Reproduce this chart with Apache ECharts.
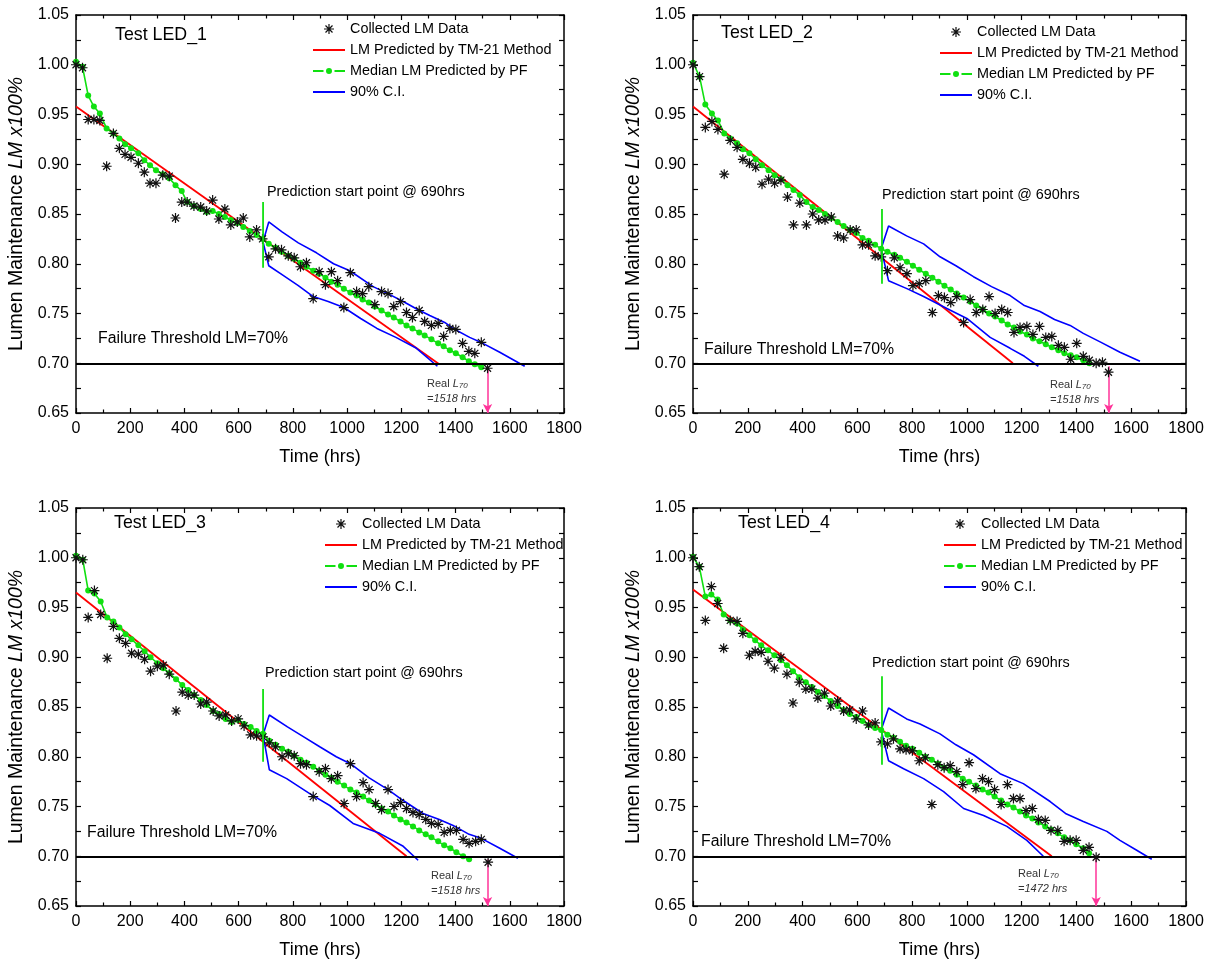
<!DOCTYPE html>
<html><head><meta charset="utf-8">
<script src="https://cdn.jsdelivr.net/npm/echarts@6/dist/echarts.min.js"></script>
<style>html,body{margin:0;padding:0;background:#fff}#chart{width:1225px;height:969px}</style>
</head><body><div id="chart"></div>
<script>
// ---------------- DATA ----------------
const xMin = 0, xMax = 1800, xStep = 200;
const yMin = 0.65, yMax = 1.05, yStep = 0.05;
const threshold = 0.70;
const predictionStart = 690;
const legendNames = ['Collected LM Data', 'LM Predicted by TM-21 Method', 'Median LM Predicted by PF', '90% C.I.'];
const panelTitles = ['Test LED_1', 'Test LED_2', 'Test LED_3', 'Test LED_4'];
const realL70 = [1518, 1518, 1518, 1472];

// LED 1
const led1Time = [0,24,45,66,88,113,138,160,181,203,230,252,273,295,320,344,367,390,410,435,460,482,504,527,549,571,595,617,641,666,688,711,736,758,783,805,828,850,875,897,920,942,965,988,1012,1035,1057,1080,1102,1127,1151,1172,1197,1219,1241,1266,1286,1311,1336,1356,1379,1401,1426,1449,1471,1495,1518];
const led1LM = [1.000,0.997,0.945,0.945,0.944,0.898,0.931,0.916,0.910,0.907,0.901,0.892,0.881,0.881,0.889,0.888,0.846,0.862,0.862,0.858,0.857,0.853,0.864,0.845,0.855,0.839,0.842,0.846,0.827,0.834,0.825,0.807,0.815,0.814,0.808,0.806,0.797,0.801,0.765,0.792,0.779,0.792,0.783,0.756,0.791,0.772,0.770,0.777,0.759,0.772,0.770,0.757,0.762,0.751,0.746,0.753,0.742,0.738,0.740,0.727,0.735,0.734,0.720,0.712,0.710,0.721,0.695];
const led1PFTime = [0,24,45,66,88,113,138,160,181,203,230,252,273,295,320,344,367,390,410,435,460,482,504,527,549,571,595,617,641,666,688,711,736,758,783,805,828,850,875,897,920,942,965,988,1012,1035,1057,1080,1102,1127,1151,1172,1197,1219,1241,1266,1286,1311,1336,1356,1379,1401,1426,1449,1471,1495];
const led1PF = [1.003,0.998,0.969,0.958,0.951,0.936,0.931,0.926,0.920,0.916,0.911,0.904,0.899,0.894,0.890,0.886,0.879,0.873,0.862,0.858,0.855,0.852,0.853,0.850,0.847,0.844,0.841,0.837,0.833,0.829,0.825,0.820,0.816,0.812,0.808,0.805,0.801,0.797,0.793,0.790,0.786,0.782,0.779,0.775,0.771,0.768,0.764,0.761,0.757,0.753,0.749,0.746,0.742,0.738,0.735,0.731,0.728,0.724,0.720,0.717,0.713,0.710,0.706,0.702,0.699,0.696];
const led1TM21Time = [0, 1340];
const led1TM21 = [0.958, 0.699];
const led1UpperTime = [690,711,760,820,887,950,1010,1096,1150,1207,1260,1305,1360,1391,1452,1501,1563,1655];
const led1Upper = [0.822,0.842,0.832,0.821,0.811,0.800,0.793,0.777,0.770,0.762,0.754,0.748,0.741,0.735,0.726,0.720,0.711,0.697];
const led1LowerTime = [690,711,760,820,875,930,988,1050,1110,1180,1256,1333];
const led1Lower = [0.822,0.798,0.789,0.778,0.767,0.762,0.756,0.745,0.735,0.726,0.715,0.697];
const led1StartMark = [0.796, 0.862];

// LED 2
const led2Time = [0,24,45,69,91,114,136,161,182,206,229,252,276,298,321,345,367,390,414,437,459,482,505,528,550,574,596,619,641,665,687,710,735,756,781,803,826,850,874,896,918,941,963,988,1012,1034,1058,1081,1103,1127,1149,1172,1194,1219,1241,1265,1288,1310,1334,1356,1379,1401,1425,1447,1472,1495,1517];
const led2LM = [1.000,0.988,0.937,0.943,0.935,0.890,0.924,0.917,0.905,0.901,0.897,0.880,0.885,0.881,0.884,0.867,0.839,0.861,0.839,0.850,0.844,0.844,0.847,0.828,0.826,0.834,0.834,0.819,0.819,0.808,0.807,0.793,0.806,0.796,0.790,0.778,0.780,0.783,0.751,0.768,0.766,0.761,0.767,0.741,0.764,0.751,0.754,0.767,0.750,0.754,0.751,0.731,0.736,0.737,0.729,0.737,0.726,0.727,0.718,0.716,0.704,0.720,0.707,0.703,0.700,0.701,0.691];
const led2PFTime = [0,24,45,69,91,114,136,161,182,206,229,252,276,298,321,345,367,390,414,437,459,482,505,528,550,574,596,619,641,665,687,710,735,756,781,803,826,850,874,896,918,941,963,988,1012,1034,1058,1081,1103,1127,1149,1172,1194,1219,1241,1265,1288,1310,1334,1356,1379,1401,1425,1447];
const led2PF = [1.002,0.988,0.960,0.951,0.944,0.931,0.926,0.921,0.915,0.911,0.905,0.899,0.894,0.889,0.885,0.879,0.874,0.869,0.862,0.857,0.854,0.850,0.846,0.842,0.838,0.834,0.831,0.826,0.823,0.819,0.815,0.812,0.809,0.806,0.802,0.798,0.794,0.790,0.786,0.782,0.778,0.774,0.770,0.766,0.762,0.758,0.754,0.750,0.747,0.743,0.739,0.736,0.732,0.729,0.725,0.722,0.719,0.716,0.713,0.710,0.708,0.706,0.703,0.700];
const led2TM21Time = [0, 1168];
const led2TM21 = [0.958, 0.700];
const led2UpperTime = [687,714,780,842,902,960,1024,1090,1158,1210,1267,1320,1377,1425,1490,1559,1632];
const led2Upper = [0.815,0.838,0.828,0.820,0.807,0.798,0.787,0.777,0.768,0.758,0.752,0.744,0.738,0.730,0.721,0.711,0.702];
const led2LowerTime = [687,714,781,842,927,1000,1085,1158,1210,1261];
const led2Lower = [0.815,0.783,0.775,0.767,0.755,0.745,0.726,0.715,0.707,0.697];
const led2StartMark = [0.780, 0.855];

// LED 3
const led3Time = [0,25,45,68,91,115,138,160,183,205,230,253,275,300,322,344,369,392,414,436,460,482,506,528,552,574,598,620,644,666,690,713,736,760,783,805,828,850,875,897,920,942,965,989,1012,1035,1059,1081,1105,1127,1151,1173,1197,1219,1243,1266,1290,1311,1336,1358,1381,1403,1428,1450,1474,1495,1520];
const led3LM = [1.000,0.998,0.940,0.967,0.943,0.899,0.931,0.919,0.914,0.904,0.903,0.898,0.886,0.891,0.892,0.883,0.846,0.865,0.862,0.862,0.853,0.855,0.846,0.841,0.842,0.836,0.838,0.831,0.822,0.821,0.820,0.814,0.810,0.800,0.803,0.801,0.793,0.792,0.760,0.785,0.788,0.778,0.781,0.753,0.793,0.760,0.774,0.767,0.753,0.747,0.767,0.750,0.754,0.748,0.744,0.742,0.737,0.733,0.732,0.724,0.726,0.726,0.717,0.713,0.715,0.717,0.694];
const led3PFTime = [0,25,45,68,91,115,138,160,183,205,230,253,275,300,322,344,369,392,414,436,460,482,506,528,552,574,598,620,644,666,690,713,736,760,783,805,828,850,875,897,920,942,965,989,1012,1035,1059,1081,1105,1127,1151,1173,1197,1219,1243,1266,1290,1311,1336,1358,1381,1403,1428,1450];
const led3PF = [1.002,0.998,0.967,0.964,0.956,0.940,0.936,0.930,0.923,0.918,0.912,0.906,0.900,0.894,0.889,0.884,0.878,0.872,0.867,0.862,0.857,0.852,0.846,0.843,0.838,0.835,0.837,0.833,0.830,0.826,0.823,0.816,0.812,0.808,0.805,0.801,0.797,0.794,0.790,0.786,0.782,0.779,0.775,0.771,0.767,0.764,0.760,0.756,0.752,0.748,0.745,0.741,0.737,0.734,0.730,0.726,0.722,0.719,0.715,0.711,0.708,0.704,0.700,0.697];
const led3TM21Time = [0, 1219];
const led3TM21 = [0.965, 0.700];
const led3UpperTime = [690,713,780,840,899,960,1012,1080,1151,1207,1280,1340,1391,1450,1495,1563,1630];
const led3Upper = [0.822,0.842,0.830,0.820,0.810,0.800,0.793,0.779,0.767,0.756,0.743,0.737,0.731,0.722,0.718,0.708,0.698];
const led3LowerTime = [690,713,777,862,936,1022,1120,1207,1262];
const led3Lower = [0.822,0.787,0.778,0.763,0.751,0.733,0.723,0.710,0.696];
const led3StartMark = [0.795, 0.868];

// LED 4
const led4Time = [0,23,45,67,90,112,136,161,182,206,227,249,274,297,321,343,365,388,412,434,456,480,503,528,550,572,596,619,641,665,687,710,732,756,778,801,826,848,872,894,917,939,963,985,1008,1033,1057,1079,1101,1125,1148,1170,1194,1216,1239,1261,1286,1307,1332,1355,1377,1399,1425,1446,1472];
const led4LM = [1.000,0.991,0.937,0.971,0.954,0.909,0.937,0.936,0.924,0.902,0.906,0.905,0.896,0.889,0.900,0.883,0.854,0.875,0.868,0.868,0.859,0.864,0.851,0.856,0.846,0.847,0.838,0.846,0.832,0.834,0.815,0.813,0.818,0.808,0.807,0.806,0.796,0.799,0.752,0.792,0.789,0.791,0.785,0.772,0.794,0.768,0.778,0.775,0.767,0.752,0.772,0.758,0.758,0.746,0.748,0.737,0.736,0.726,0.726,0.715,0.716,0.716,0.706,0.709,0.699];
const led4PFTime = [0,23,45,67,90,112,136,161,182,206,227,249,274,297,321,343,365,388,412,434,456,480,503,528,550,572,596,619,641,665,687,710,732,756,778,801,826,848,872,894,917,939,963,985,1008,1033,1057,1079,1101,1125,1148,1170,1194,1216,1239,1261,1286,1307,1332,1355,1377,1399,1425,1446];
const led4PF = [1.001,0.991,0.961,0.963,0.958,0.943,0.937,0.934,0.928,0.922,0.917,0.912,0.907,0.902,0.897,0.892,0.886,0.880,0.875,0.870,0.865,0.861,0.856,0.851,0.847,0.843,0.840,0.836,0.832,0.829,0.827,0.822,0.819,0.815,0.811,0.808,0.804,0.800,0.797,0.793,0.789,0.786,0.782,0.778,0.775,0.771,0.767,0.764,0.760,0.756,0.752,0.749,0.745,0.741,0.738,0.734,0.730,0.727,0.723,0.719,0.716,0.712,0.708,0.703];
const led4TM21Time = [0, 1310];
const led4TM21 = [0.968, 0.700];
const led4UpperTime = [687,714,780,829,902,960,1024,1121,1206,1304,1360,1425,1511,1559,1620,1675];
const led4Upper = [0.827,0.849,0.838,0.833,0.823,0.812,0.802,0.783,0.773,0.755,0.743,0.735,0.725,0.716,0.706,0.697];
const led4LowerTime = [687,714,769,842,915,988,1061,1146,1219,1279];
const led4Lower = [0.827,0.796,0.788,0.778,0.765,0.748,0.741,0.730,0.716,0.700];
const led4StartMark = [0.792, 0.881];

// ---------------- CHART ----------------
const FONT = 'Arial, "Liberation Sans", Helvetica, sans-serif';
const zip = (a, b) => a.map((v, k) => [v, b[k]]);
const panels = [
  {t: led1Time, v: led1LM, pt: led1PFTime, pv: led1PF, tt: led1TM21Time, tv: led1TM21, ut: led1UpperTime, uv: led1Upper, lt: led1LowerTime, lv: led1Lower, sm: led1StartMark},
  {t: led2Time, v: led2LM, pt: led2PFTime, pv: led2PF, tt: led2TM21Time, tv: led2TM21, ut: led2UpperTime, uv: led2Upper, lt: led2LowerTime, lv: led2Lower, sm: led2StartMark},
  {t: led3Time, v: led3LM, pt: led3PFTime, pv: led3PF, tt: led3TM21Time, tv: led3TM21, ut: led3UpperTime, uv: led3Upper, lt: led3LowerTime, lv: led3Lower, sm: led3StartMark},
  {t: led4Time, v: led4LM, pt: led4PFTime, pv: led4PF, tt: led4TM21Time, tv: led4TM21, ut: led4UpperTime, uv: led4Upper, lt: led4LowerTime, lv: led4Lower, sm: led4StartMark}
];

const grids = [
  {left: 76, top: 15, width: 488, height: 398},
  {left: 693, top: 15, width: 493, height: 398},
  {left: 76, top: 508, width: 488, height: 398},
  {left: 693, top: 508, width: 493, height: 398}
];

const STAR = 'path://M-1.2,-10L1.2,-10L1.2,10L-1.2,10Z M-10,-1.2L10,-1.2L10,1.2L-10,1.2Z M-6.15,-7.85L7.85,6.15L6.15,7.85L-7.85,-6.15Z M6.15,-7.85L7.85,-6.15L-6.15,7.85L-7.85,6.15Z';
// legend icons drawn in a 32x14 box (tiny corner triangles fix the box size)
const BOX = 'M0,0L0.01,0L0,0.01Z M32,14L31.99,14L32,13.99Z ';
const ICON_LINE = 'path://' + BOX + 'M0,6L32,6L32,8L0,8Z';
const ICON_DOTLINE = 'path://' + BOX + 'M0,6.1L10.5,6.1L10.5,7.9L0,7.9Z M21.5,6.1L32,6.1L32,7.9L21.5,7.9Z M13,7A3,3 0 1 0 19,7A3,3 0 1 0 13,7Z';
const ICON_STAR = 'path://' + BOX + 'M15.4,2L16.6,2L16.6,12L15.4,12Z M11,6.4L21,6.4L21,7.6L11,7.6Z M12.925,3.075L19.925,10.075L19.075,10.925L12.075,3.925Z M19.075,3.075L19.925,3.925L12.925,10.925L12.075,10.075Z';
const GREEN = '#10e010', RED = '#ff0000', BLUE = '#0000ff';

const xAxes = [], yAxes = [], series = [], legends = [], graphics = [];
const axisLineStyle = {color: '#000', width: 1.5};

grids.forEach((g, i) => {
  xAxes.push({
    gridIndex: i, type: 'value', min: xMin, max: xMax, interval: xStep, position: 'bottom',
    axisLine: {onZero: false, lineStyle: axisLineStyle},
    axisTick: {inside: true, length: 5, lineStyle: {color: '#000', width: 1.2}},
    minorTick: {show: true, splitNumber: 2, length: 3.5, lineStyle: {color: '#000', width: 1.2}},
    axisLabel: {color: '#000', fontSize: 16, fontFamily: FONT, margin: 8, formatter: v => String(v)},
    splitLine: {show: false}, minorSplitLine: {show: false},
    name: 'Time (hrs)', nameLocation: 'middle', nameGap: 35,
    nameTextStyle: {color: '#000', fontSize: 18, fontFamily: FONT}
  });
  xAxes.push({
    gridIndex: i, type: 'value', min: xMin, max: xMax, interval: xStep, position: 'top',
    axisLine: {onZero: false, lineStyle: axisLineStyle},
    axisTick: {inside: true, length: 5, lineStyle: {color: '#000', width: 1.2}},
    minorTick: {show: true, splitNumber: 2, length: 3.5, lineStyle: {color: '#000', width: 1.2}},
    axisLabel: {show: false}, splitLine: {show: false}
  });
  yAxes.push({
    gridIndex: i, type: 'value', min: yMin, max: yMax, interval: yStep, position: 'left',
    axisLine: {onZero: false, lineStyle: axisLineStyle},
    axisTick: {inside: true, length: 5, lineStyle: {color: '#000', width: 1.2}},
    minorTick: {show: true, splitNumber: 2, length: 5, lineStyle: {color: '#000', width: 1.2}},
    axisLabel: {color: '#000', fontSize: 16, fontFamily: FONT, margin: 7, formatter: v => v.toFixed(2)},
    splitLine: {show: false},
    name: 'Lumen Maintenance {i|LM x100%}', nameLocation: 'middle', nameGap: 49, nameRotate: 90,
    nameTextStyle: {color: '#000', fontSize: 19.5, fontFamily: FONT,
      rich: {i: {fontStyle: 'italic', fontSize: 19.5, color: '#000', fontFamily: FONT}}}
  });
  yAxes.push({
    gridIndex: i, type: 'value', min: yMin, max: yMax, interval: yStep, position: 'right',
    axisLine: {onZero: false, lineStyle: axisLineStyle},
    axisTick: {inside: true, length: 5, lineStyle: {color: '#000', width: 1.2}},
    minorTick: {show: true, splitNumber: 2, length: 5, lineStyle: {color: '#000', width: 1.2}},
    axisLabel: {show: false}, splitLine: {show: false}
  });

  const p = panels[i];
  const base = {xAxisIndex: 2 * i, yAxisIndex: 2 * i, animation: false, emphasis: {disabled: true}};
  series.push({
    ...base, type: 'line', name: legendNames[1], data: zip(p.tt, p.tv), symbol: 'none',
    lineStyle: {color: RED, width: 1.8}, itemStyle: {color: RED}, z: 3,
    markLine: {silent: true, symbol: ['none', 'none'], label: {show: false}, animation: false,
      emphasis: {disabled: true},
      lineStyle: {color: '#000', width: 2, type: 'solid'}, data: [{yAxis: threshold}]}
  });
  series.push({
    ...base, type: 'line', name: legendNames[3], data: zip(p.ut, p.uv), symbol: 'none',
    lineStyle: {color: BLUE, width: 1.6}, itemStyle: {color: BLUE}, z: 3
  });
  series.push({
    ...base, type: 'line', name: legendNames[3], data: zip(p.lt, p.lv), symbol: 'none',
    lineStyle: {color: BLUE, width: 1.6}, itemStyle: {color: BLUE}, z: 3
  });
  series.push({
    ...base, type: 'line', name: legendNames[2], data: zip(p.pt, p.pv), symbol: 'circle', symbolSize: 6,
    showAllSymbol: true, lineStyle: {color: GREEN, width: 1.6}, itemStyle: {color: GREEN, borderWidth: 0}, z: 4
  });
  series.push({
    ...base, type: 'scatter', name: legendNames[0], data: zip(p.t, p.v), symbol: STAR, symbolSize: 10,
    itemStyle: {color: '#111', opacity: 1}, z: 5
  });
  series.push({
    ...base, type: 'line', name: 'start', data: [[predictionStart, p.sm[0]], [predictionStart, p.sm[1]]],
    symbol: 'none', lineStyle: {color: GREEN, width: 1.8}, z: 6,
    markLine: {silent: true, symbol: ['none', 'arrow'], symbolSize: [7, 9], label: {show: false}, animation: false,
      emphasis: {disabled: true},
      lineStyle: {color: '#ff3399', width: 1.5, type: 'solid'},
      data: [[{coord: [realL70[i], 0.697]}, {coord: [realL70[i], yMin]}]]}
  });
});

const legendPos = [[308, 17], [935, 20], [320, 512], [939, 512]];
legendPos.forEach(pos => {
  legends.push({
    orient: 'vertical', left: pos[0], top: pos[1], itemWidth: 32, itemHeight: 14, itemGap: 7,
    selectedMode: false, textStyle: {color: '#000', fontSize: 14.4, fontFamily: FONT},
    data: [
      {name: legendNames[0], icon: ICON_STAR, itemStyle: {color: '#111'}},
      {name: legendNames[1], icon: ICON_LINE, itemStyle: {color: RED}},
      {name: legendNames[2], icon: ICON_DOTLINE, itemStyle: {color: GREEN}},
      {name: legendNames[3], icon: ICON_LINE, itemStyle: {color: BLUE}}
    ]
  });
});

function txt(x, y, text, size, extra) {
  return Object.assign({type: 'text', x: x, y: y, z: 100, silent: true,
    style: {text: text, fontSize: size, fontFamily: FONT, fill: '#000', verticalAlign: 'middle'}}, extra || {});
}
const titlePos = [[115, 35], [721, 33], [114, 523], [738, 523]];
const predPos = [[267, 192], [882, 195], [265, 673], [872, 663]];
const failPos = [[98, 339], [704, 350], [87, 833], [701, 842]];
const realPos = [[427, 384], [1050, 385], [431, 876], [1018, 874]];
for (let i = 0; i < 4; i++) {
  graphics.push(txt(titlePos[i][0], titlePos[i][1], panelTitles[i], 17.8));
  graphics.push(txt(predPos[i][0], predPos[i][1], 'Prediction start point @ ' + predictionStart + 'hrs', 14.4));
  graphics.push(txt(failPos[i][0], failPos[i][1], 'Failure Threshold LM=' + Math.round(threshold * 100) + '%', 15.8));
  graphics.push({type: 'text', x: realPos[i][0], y: realPos[i][1], z: 100, silent: true,
    style: {text: 'Real {i|L}{s|70}', fontSize: 11, fontFamily: FONT, fill: '#333', verticalAlign: 'middle',
      rich: {i: {fontStyle: 'italic', fontSize: 11, fontFamily: FONT, fill: '#333'},
             s: {fontStyle: 'italic', fontSize: 8, fontFamily: FONT, fill: '#333', verticalAlign: 'bottom'}}}});
  graphics.push({type: 'text', x: realPos[i][0], y: realPos[i][1] + 15, z: 100, silent: true,
    style: {text: '=' + realL70[i] + ' hrs', fontSize: 11, fontStyle: 'italic', fontFamily: FONT, fill: '#333', verticalAlign: 'middle'}});
}

const chart = echarts.init(document.getElementById('chart'), null, {renderer: 'canvas'});
chart.setOption({
  backgroundColor: '#fff',
  animation: false,
  grid: grids,
  xAxis: xAxes,
  yAxis: yAxes,
  legend: legends,
  series: series,
  graphic: graphics
});
</script></body></html>
